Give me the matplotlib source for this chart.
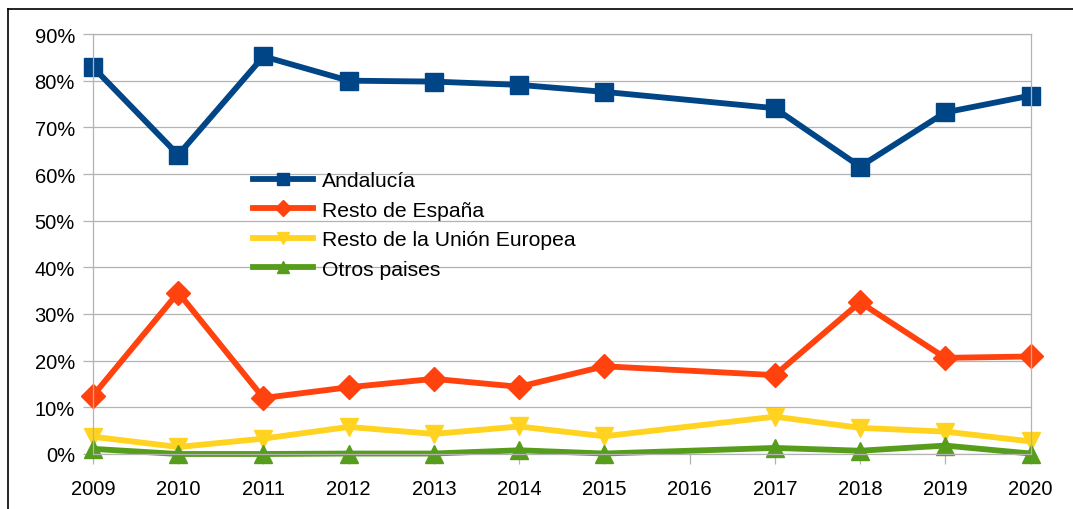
import matplotlib
matplotlib.use("Agg")
import matplotlib.pyplot as plt
from matplotlib.lines import Line2D
from matplotlib.ticker import PercentFormatter

# Data (2016 has no data; the lines join 2015 directly to 2017)
years = [2009, 2010, 2011, 2012, 2013, 2014, 2015, 2017, 2018, 2019, 2020]
tick_years = list(range(2009, 2021))
andalucia = [82.9, 64.1, 85.2, 80.0, 79.8, 79.1, 77.6, 74.1, 61.6, 73.2, 76.8]
resto_espana = [12.5, 34.6, 12.0, 14.3, 16.1, 14.4, 18.8, 16.9, 32.5, 20.6, 20.9]
resto_ue = [3.7, 1.5, 3.3, 5.8, 4.3, 5.9, 3.8, 8.0, 5.6, 4.8, 2.7]
otros = [1.1, 0.0, 0.0, 0.1, 0.1, 0.8, 0.1, 1.3, 0.7, 1.8, 0.1]
series_names = ["Andalucía", "Resto de España", "Resto de la Unión Europea", "Otros paises"]

plt.rcParams['font.family'] = ['Liberation Sans', 'DejaVu Sans']

W, H = 1073, 510
fig = plt.figure(figsize=(W / 100, H / 100), dpi=100)
ax = fig.add_axes([93 / W, 1 - 455 / H, (1030.5 - 93) / W, (455 - 35) / H])

grid_c = '#b3b3b3'
styles = [
    dict(color='#004586', marker='s', ms=13.5),
    dict(color='#ff420e', marker='D', ms=12.5),
    dict(color='#ffd320', marker='v', ms=13.5),
    dict(color='#579d1c', marker='^', ms=13.5),
]
for vals, name, st in zip([andalucia, resto_espana, resto_ue, otros], series_names, styles):
    ax.plot(years, [v / 100 for v in vals], color=st['color'], lw=4.2, marker=st['marker'],
            ms=st['ms'], mec=st['color'], mfc=st['color'], label=name, clip_on=False,
            solid_joinstyle='miter')

ax.set_xlim(2009, 2020)
ax.set_ylim(0, 0.9)
ax.set_yticks([i / 10 for i in range(10)])
ax.yaxis.set_major_formatter(PercentFormatter(1.0, decimals=0))
ax.set_xticks(tick_years)
ax.set_xticklabels([str(y) for y in tick_years])
ax.grid(axis='y', color=grid_c, lw=0.9)
ax.set_axisbelow(True)
for s in ax.spines.values():
    s.set_color(grid_c)
    s.set_linewidth(0.9)
ax.tick_params(axis='both', colors=grid_c, labelcolor='black', labelsize=14.5,
               length=7, width=0.9, direction='out')
ax.tick_params(axis='x', pad=11)
ax.tick_params(axis='y', pad=6)

leg = ax.legend(loc='upper left', bbox_to_anchor=(253 / W, 1 - 172 / H),
                bbox_transform=fig.transFigure, frameon=False, fontsize=15.2,
                handlelength=2.85, handletextpad=0.4, labelspacing=0.5,
                borderpad=0, borderaxespad=0, markerscale=0.65)

# Outer frame (top and left edges visible)
fig.add_artist(Line2D([8 / W, 1.0], [1 - 10 / H, 1 - 10 / H], transform=fig.transFigure,
                      color='black', lw=1.2))
fig.add_artist(Line2D([8 / W, 8 / W], [0, 1 - 10 / H], transform=fig.transFigure,
                      color='black', lw=1.2))

fig.savefig('out.png', dpi=100)
